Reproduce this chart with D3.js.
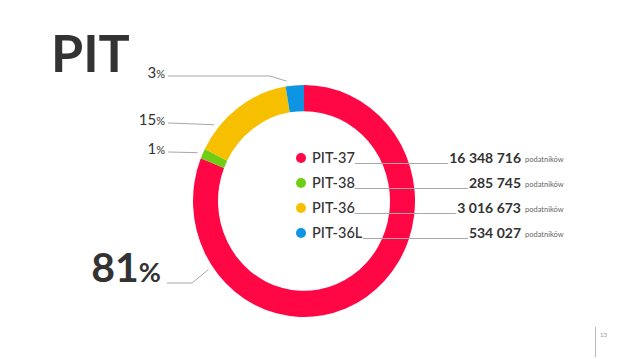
<!DOCTYPE html>
<meta charset="utf-8">
<style>
body { margin: 0; background: #fff; }
text { font-family: Lato, "Open Sans", sans-serif; fill: #333; }
.lead { fill: none; stroke: #a8a8a8; stroke-width: 1; }
</style>
<svg width="638" height="359"></svg>
<script src="https://d3js.org/d3.v7.min.js"></script>
<script>

var categories = ["PIT-37", "PIT-38", "PIT-36", "PIT-36L"];
var counts = [16348716, 285745, 3016673, 534027];
var percentLabels = ["81", "1", "15", "3"];
var colors = ["#ff0644", "#6fcd14", "#f6c000", "#0d94e2"];

var svg = d3.select("svg");

var cx = 304, cy = 201, rOuter = 111, rInner = 86, sy = 1.045;

svg.append("text")
    .attr("x", 51).attr("y", 72)
    .attr("font-size", 52).attr("font-weight", 700)
    .style("fill", "#333")
    .text("PIT");

var pie = d3.pie().sort(null).value(function(d) { return d; });
var arcs = pie(counts);
var arc = d3.arc().innerRadius(rInner).outerRadius(rOuter);

var ring = svg.append("g")
    .attr("transform", "translate(" + cx + "," + cy + ") scale(1," + sy + ")");

ring.selectAll("path")
  .data(arcs)
  .enter().append("path")
    .attr("d", arc)
    .attr("fill", function(d, i) { return colors[i]; });

// leader lines for the percentages (layout: label baseline, elbow, anchor angle on ring)
var layout = [
  { y: 283, x0: 167, elbow: 192, big: true, angle: 235.5 },
  { y: 152, x0: 168, elbow: null, angle: 293.5 },
  { y: 123, x0: 168, elbow: null, angle: 309 },
  { y: 76, x0: 168, elbow: 270, angle: 351.4 }
];

function ringPoint(deg, r) {
  var a = deg * Math.PI / 180;
  return [cx + r * Math.sin(a), cy - r * Math.cos(a) * sy];
}

layout.forEach(function(l, i) {
  var end = ringPoint(l.angle, 116);
  var pts = [[l.x0, l.y]];
  if (l.elbow) pts.push([l.elbow, l.y]);
  pts.push(end);
  svg.append("path").attr("class", "lead").attr("d", d3.line()(pts));

  var t = svg.append("text")
      .attr("x", l.big ? 161 : 165)
      .attr("y", l.big ? l.y - 1 : l.y + 2)
      .attr("text-anchor", "end")
      .attr("font-weight", l.big ? 700 : 400);
  t.append("tspan").attr("font-size", l.big ? 41 : 15).text(percentLabels[i]);
  t.append("tspan").attr("font-size", l.big ? 27 : 11).text("%");
});

// legend
var ly = d3.scalePoint().domain(categories).range([158, 233]);
var valueFmt = function(v) { return d3.format(",")(v).replace(/,/g, " "); };

var leg = svg.append("g").selectAll("g")
  .data(categories)
  .enter().append("g");

leg.append("circle")
    .attr("cx", 301).attr("cy", function(d) { return ly(d); })
    .attr("r", 5)
    .attr("fill", function(d, i) { return colors[i]; });

leg.append("text")
    .attr("x", 312).attr("y", function(d) { return ly(d) + 5; })
    .attr("font-size", 14.5).attr("font-weight", 500)
    .attr("class", "lab")
    .text(function(d) { return d; });

leg.append("text")
    .attr("x", 521).attr("y", function(d) { return ly(d) + 5; })
    .attr("text-anchor", "end")
    .attr("font-size", 14).attr("font-weight", 700)
    .attr("class", "val")
    .text(function(d, i) { return valueFmt(counts[i]); });

leg.append("text")
    .attr("x", 525).attr("y", function(d) { return ly(d) + 4; })
    .attr("font-size", 7.5)
    .style("fill", "#666")
    .text("podatników");

leg.each(function() {
  var g = d3.select(this);
  var lb = g.select(".lab").node().getBBox();
  var vb = g.select(".val").node().getBBox();
  var y = Math.round(lb.y + lb.height - 3) + 0.5;
  g.insert("line", ":first-child")
      .attr("class", "lead")
      .attr("x1", lb.x + lb.width).attr("x2", vb.x - 1)
      .attr("y1", y).attr("y2", y);
});

// page number
svg.append("line")
    .attr("x1", 595.5).attr("x2", 595.5)
    .attr("y1", 327).attr("y2", 357)
    .attr("stroke", "#bbb");
svg.append("text")
    .attr("x", 600).attr("y", 337)
    .attr("font-size", 6)
    .style("fill", "#999")
    .text("13");

</script>
